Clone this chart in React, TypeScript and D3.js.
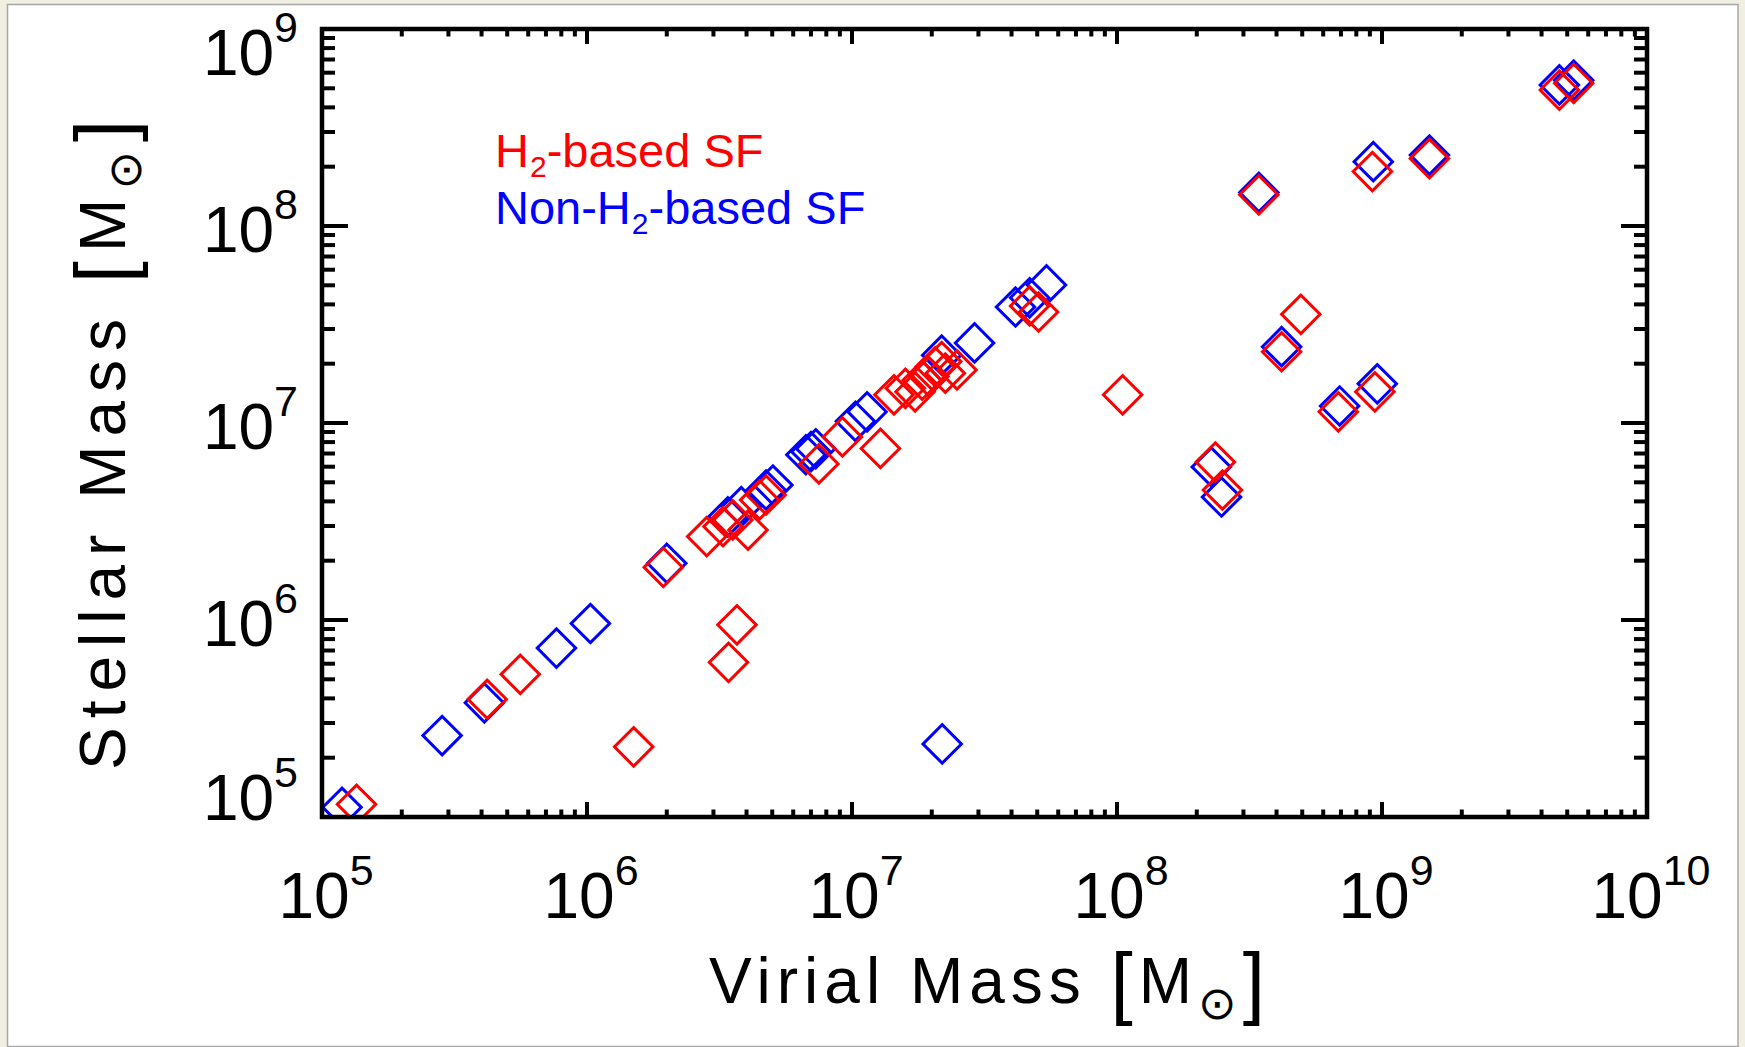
import React from 'react';
import * as d3 from 'd3';

const W = 1745;
const H = 1047;

// H2-based star formation: virial mass and stellar mass [Msun]
const h2Virial = [
  1.35e5, 4.2e5, 5.6e5, 1.5e6, 1.94e6, 2.83e6, 3.26e6, 3.55e6, 4.05e6, 4.48e6,
  4.74e6, 3.42e6, 3.68e6, 7.5e6, 9.2e6, 1.28e7, 1.44e7, 1.59e7, 1.73e7, 1.84e7,
  1.95e7, 2.06e7, 2.18e7, 2.25e7, 2.49e7, 4.68e7, 5.06e7, 1.05e8, 2.35e8, 2.5e8,
  3.43e8, 4.18e8, 4.94e8, 6.84e8, 9.4e8, 9.2e8, 1.51e9, 4.67e9, 5.29e9,
];
const h2Stellar = [
  1.16e5, 3.96e5, 5.3e5, 2.27e5, 1.85e6, 2.65e6, 2.98e6, 3.22e6, 2.86e6, 4.07e6,
  4.31e6, 6.1e5, 9.45e5, 6.2e6, 8.5e6, 7.43e6, 1.39e7, 1.5e7, 1.44e7, 1.65e7,
  1.72e7, 1.93e7, 2.05e7, 1.79e7, 1.86e7, 3.93e7, 3.66e7, 1.39e7, 6.33e6, 4.57e6,
  1.44e8, 2.3e7, 3.56e7, 1.14e7, 1.44e7, 1.89e8, 2.2e8, 4.9e8, 5.3e8,
];

// Non-H2-based star formation
const nonH2Virial = [
  1.19e5, 2.84e5, 4.1e5, 7.67e5, 1.03e6, 2.0e6, 3.4e6, 3.82e6, 4.74e6, 5.03e6,
  6.7e6, 7.0e6, 7.3e6, 1.03e7, 1.14e7, 2.18e7, 2.9e7, 4.14e7, 4.68e7, 5.42e7,
  2.19e7, 2.27e8, 2.48e8, 3.43e8, 4.18e8, 6.92e8, 9.6e8, 9.27e8, 1.51e9, 4.67e9,
  5.29e9,
];
const nonH2Stellar = [
  1.12e5, 2.59e5, 3.8e5, 7.2e5, 9.6e5, 1.94e6, 3.34e6, 3.76e6, 4.57e6, 4.84e6,
  6.9e6, 7.15e6, 7.4e6, 1.02e7, 1.14e7, 2.21e7, 2.55e7, 3.88e7, 4.32e7, 5.02e7,
  2.35e5, 5.98e6, 4.21e6, 1.48e8, 2.44e7, 1.22e7, 1.58e7, 2.12e8, 2.29e8, 5.2e8,
  5.5e8,
];

const xTickExponents = ['5', '6', '7', '8', '9', '10'];
const yTickExponents = ['5', '6', '7', '8', '9'];

const RED = '#ff0000';
const BLUE = '#0000ff';
const NUM_FONT = '"Liberation Sans", Arial, sans-serif';
const SYM_FONT = '"DejaVu Sans", sans-serif';

export default function App() {
  const left = 322;
  const right = 1647;
  const top = 29;
  const bottom = 817;

  const x = d3.scaleLog().domain([1e5, 1e10]).range([left, right]);
  const y = d3.scaleLog().domain([1e5, 1e9]).range([bottom, top]);

  const isMajor = (v: number) => Math.abs(Math.log10(v) - Math.round(Math.log10(v))) < 1e-6;
  const xTicks = x.ticks();
  const yTicks = y.ticks();

  const plotW = right - left;
  const plotH = bottom - top;
  const yMajorLen = 0.02 * plotW * 0.98;
  const xMajorLen = 0.019 * plotH;

  const diamond = d3.symbol(d3.symbolSquare, 740)() as string;

  const seriesPts = (xs: number[], ys: number[]) => xs.map((v, i) => [x(v), y(ys[i])]);
  const bluePts = seriesPts(nonH2Virial, nonH2Stellar);
  const redPts = seriesPts(h2Virial, h2Stellar);

  return (
    <div style={{ position: 'absolute', left: 0, top: 0 }}>
      <svg width={W} height={H} viewBox={`0 0 ${W} ${H}`} style={{ display: 'block' }}>
        <defs>
          <clipPath id="plot-clip">
            <rect x={left} y={top - 60} width={plotW + 60} height={plotH + 60} />
          </clipPath>
        </defs>
        <rect x={0} y={0} width={W} height={H} fill="#f1efe2" />
        <rect x={7.5} y={4.5} width={1730.5} height={1042} fill="#ffffff" stroke="#a8a8a8" strokeWidth={1.5} />

        {/* data */}
        <g clipPath="url(#plot-clip)">
          {bluePts.map(([px, py], i) => (
            <path key={`b${i}`} d={diamond} transform={`translate(${px},${py}) rotate(45)`}
              fill="none" stroke={BLUE} strokeWidth={3} />
          ))}
          {redPts.map(([px, py], i) => (
            <path key={`r${i}`} d={diamond} transform={`translate(${px},${py}) rotate(45)`}
              fill="none" stroke={RED} strokeWidth={3} />
          ))}
        </g>

        {/* axes box */}
        <rect x={left} y={top} width={plotW} height={plotH} fill="none" stroke="#000" strokeWidth={4.5} />

        {/* x ticks, bottom and top */}
        {xTicks.map((t, i) => {
          const len = isMajor(t) ? xMajorLen : xMajorLen / 2;
          const px = x(t);
          return (
            <g key={`xt${i}`} stroke="#000" strokeWidth={4}>
              <line x1={px} x2={px} y1={bottom} y2={bottom - len} />
              <line x1={px} x2={px} y1={top} y2={top + len} />
            </g>
          );
        })}
        {/* y ticks, left and right */}
        {yTicks.map((t, i) => {
          const len = isMajor(t) ? yMajorLen : yMajorLen / 2;
          const py = y(t);
          return (
            <g key={`yt${i}`} stroke="#000" strokeWidth={4}>
              <line x1={left} x2={left + len} y1={py} y2={py} />
              <line x1={right} x2={right - len} y1={py} y2={py} />
            </g>
          );
        })}

        {/* x tick labels */}
        {xTickExponents.map((e) => {
          const px = x(Math.pow(10, +e));
          return (
            <text key={`xl${e}`} x={px + 4} y={918} textAnchor="middle" fontFamily={NUM_FONT}
              fontSize={64} fill="#000">
              10<tspan fontSize={43} dy={-33}>{e}</tspan>
            </text>
          );
        })}
        {/* y tick labels */}
        {yTickExponents.map((e) => {
          const py = y(Math.pow(10, +e));
          const base = Math.min(Math.max(py + 26, top + 46), bottom + 3);
          return (
            <text key={`yl${e}`} x={298} y={base} textAnchor="end" fontFamily={NUM_FONT}
              fontSize={64} fill="#000">
              10<tspan fontSize={43} dy={-33}>{e}</tspan>
            </text>
          );
        })}

        {/* axis titles */}
        <text x={709} y={1003} fontFamily={NUM_FONT} fontSize={64} letterSpacing={6} fill="#000">
          Virial Mass <tspan fontSize={80} dy={6}>[</tspan>
          <tspan fontSize={64} dy={-6}>M</tspan>
          <tspan fontFamily={SYM_FONT} fontSize={46} dy={16}>⊙</tspan>
          <tspan fontSize={80} dy={-10}>]</tspan>
        </text>
        <text transform="translate(125,770) rotate(-90)" x={0} y={0} fontFamily={NUM_FONT}
          fontSize={64} letterSpacing={9} fill="#000">
          Stellar Mass <tspan fontSize={80} dy={6}>[</tspan>
          <tspan fontSize={64} dy={-6}>M</tspan>
          <tspan fontFamily={SYM_FONT} fontSize={46} dy={16}>⊙</tspan>
          <tspan fontSize={80} dy={-10}>]</tspan>
        </text>

        {/* legend */}
        <text x={495} y={167} fontFamily={NUM_FONT} fontSize={47} fill={RED}>
          H<tspan fontSize={30} dx={1} dy={10}>2</tspan><tspan dy={-10}>-based SF</tspan>
        </text>
        <text x={495} y={224} fontFamily={NUM_FONT} fontSize={47} fill={BLUE}>
          Non-H<tspan fontSize={30} dx={1} dy={10}>2</tspan><tspan dy={-10}>-based SF</tspan>
        </text>
      </svg>
    </div>
  );
}
